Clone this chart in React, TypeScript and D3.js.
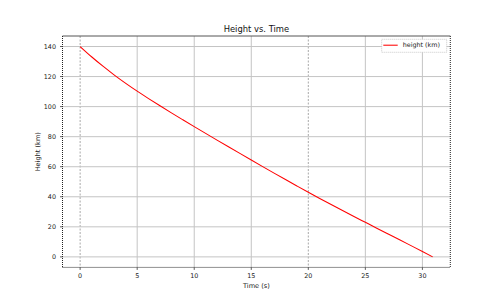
import React from "react";
import * as d3 from "d3";

const times = [0, 1, 2, 3, 4, 5, 6, 7, 8, 9, 10, 11, 12, 13, 14, 15, 16, 17, 18, 19, 20, 21, 22, 23, 24, 25, 26, 27, 28, 29, 30, 30.9];
const heights = [140, 133.2, 126.9, 121.0, 115.5, 110.3, 105.35, 100.55, 95.85, 91.25, 86.7, 82.2, 77.73, 73.28, 68.86, 64.46, 60.09, 55.75, 51.45, 47.2, 43.0, 38.9, 34.85, 30.85, 26.9, 23.0, 19.1, 15.25, 11.4, 7.5, 3.6, 0];
const xTicks = [0, 5, 10, 15, 20, 25, 30];
const yTicks = [0, 20, 40, 60, 80, 100, 120, 140];
const title = "Height vs. Time";
const xLabel = "Time (s)";
const yLabel = "Height (km)";
const seriesName = "height (km)";

export default function App() {
  const W = 500, H = 300;
  const left = 62.5, right = 450.3, top = 36, bottom = 267.4;
  const tMax = d3.max(times) as number;
  const hMax = d3.max(heights) as number;
  const x = d3.scaleLinear().domain([-0.05 * tMax, tMax * 1.05]).range([left, right]);
  const y = d3.scaleLinear().domain([-0.05 * hMax, hMax * 1.05]).range([bottom, top]);
  const line = d3.line<number>().x((_, i) => x(times[i])).y((d) => y(d)).curve(d3.curveMonotoneX);
  const font = "DejaVu Sans, sans-serif";
  return (
    <div style={{ position: "absolute", left: 0, top: 0 }}>
      <svg width={W} height={H} style={{ display: "block", background: "#fff" }}>
        {/* grid */}
        {xTicks.map((t) => {
          const special = t === 0 || t === 20;
          return (
            <line key={"gx" + t} x1={x(t)} x2={x(t)} y1={top} y2={bottom}
              stroke={special ? "#a8a8a8" : "#c4c4c4"} strokeWidth={1}
              strokeDasharray={special ? "2,1.5" : undefined} />
          );
        })}
        {yTicks.map((v) => (
          <line key={"gy" + v} x1={left} x2={right} y1={y(v)} y2={y(v)} stroke="#c4c4c4" strokeWidth={1} />
        ))}
        {/* data */}
        <path d={line(heights) || ""} fill="none" stroke="#ff0000" strokeWidth={1.05} />
        {/* spines */}
        <line x1={left} x2={right} y1={top} y2={top} stroke="#555" strokeWidth={1} />
        <line x1={left} x2={left} y1={top} y2={bottom} stroke="#222" strokeWidth={1} strokeDasharray="1,1" />
        <line x1={right} x2={right} y1={top} y2={bottom} stroke="#222" strokeWidth={1} strokeDasharray="1,1" />
        <line x1={left} x2={right} y1={bottom} y2={bottom} stroke="#222" strokeWidth={1} strokeDasharray="1,1" />
        {/* ticks */}
        {xTicks.map((t) => (
          <g key={"xt" + t}>
            <line x1={x(t)} x2={x(t)} y1={bottom} y2={bottom + 2.5} stroke="#333" strokeWidth={0.8} />
            <text x={x(t)} y={277.5} textAnchor="middle" fontFamily={font} fontSize={6.4} fill="#222">{t}</text>
          </g>
        ))}
        {yTicks.map((v) => (
          <g key={"yt" + v}>
            <line x1={left - 2.5} x2={left} y1={y(v)} y2={y(v)} stroke="#333" strokeWidth={0.8} />
            <text x={56} y={y(v)} dy="0.35em" textAnchor="end" fontFamily={font} fontSize={6.4} fill="#222">{v}</text>
          </g>
        ))}
        {/* labels */}
        <text x={(left + right) / 2} y={31.5} textAnchor="middle" fontFamily={font} fontSize={8.4} fill="#111">{title}</text>
        <text x={(left + right) / 2} y={287.5} textAnchor="middle" fontFamily={font} fontSize={6.6} fill="#222">{xLabel}</text>
        <text transform={`translate(39.5,${(top + bottom) / 2}) rotate(-90)`} textAnchor="middle" fontFamily={font} fontSize={6.6} fill="#222">{yLabel}</text>
        {/* legend */}
        <rect x={381.7} y={39.3} width={65} height={13} fill="#fff" stroke="#bbb" strokeWidth={0.8} strokeDasharray="1,1" />
        <line x1={383.3} x2={397.7} y1={45.2} y2={45.2} stroke="#ff0000" strokeWidth={1.05} />
        <text x={402.7} y={45.2} dy="0.35em" fontFamily={font} fontSize={6.4} fill="#222">{seriesName}</text>
      </svg>
    </div>
  );
}
